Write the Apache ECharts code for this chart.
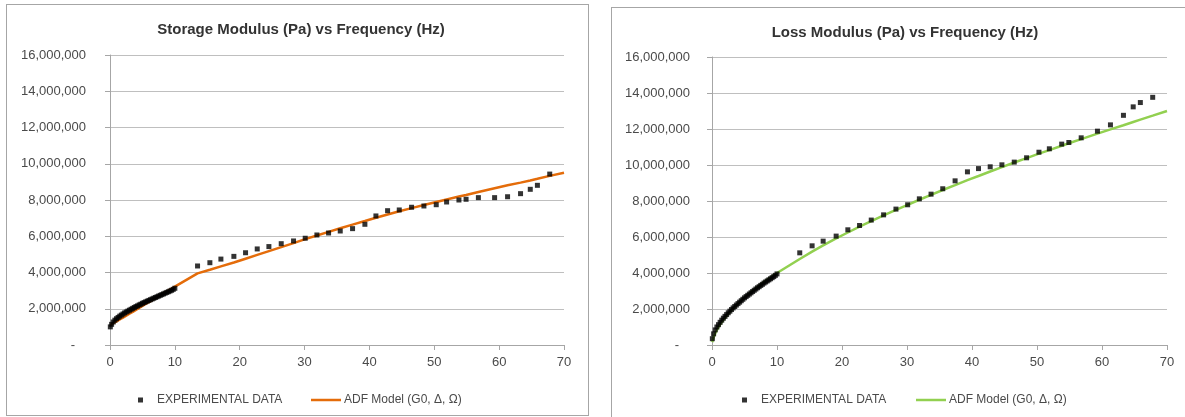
<!DOCTYPE html>
<html>
<head>
<meta charset="utf-8">
<script src="https://cdn.jsdelivr.net/npm/echarts@6/dist/echarts.min.js"></script>
<style>
    html, body { margin: 0; padding: 0; background: #fff; width: 1185px; height: 417px; overflow: hidden; position: relative; }
    .box { position: absolute; border: 1px solid #a6a6a6; background: #fff; }
    #storage { left: 6px; top: 4px; width: 581px; height: 410px; }
    #loss { left: 611px; top: 7px; width: 600px; height: 420px; }
</style>
</head>
<body>
<div id="storage" class="box"></div>
<div id="loss" class="box"></div>
<script>
// frequencies (Hz), dense sweep 0-10 then the sparse one
var freqDense = [0.05, 0.25, 0.5, 0.75, 1, 1.25, 1.5, 1.75, 2, 2.25, 2.5, 2.75, 3, 3.25, 3.5, 3.75, 4, 4.25, 4.5, 4.75,
    5, 5.25, 5.5, 5.75, 6, 6.25, 6.5, 6.75, 7, 7.25, 7.5, 7.75, 8, 8.25, 8.5, 8.75, 9, 9.25, 9.5, 9.75, 10];
var freqSparse = [13.5, 15.4, 17.1, 19.1, 20.9, 22.7, 24.5, 26.4, 28.3, 30.1, 31.9, 33.7, 35.5, 37.4, 39.3, 41.0,
    42.8, 44.6, 46.5, 48.4, 50.3, 51.9, 53.8, 54.9, 56.8, 59.3, 61.3, 63.3, 64.8, 65.9, 67.8];
var freqEnd = [70];

// storage modulus, MPa
var storageExpDense = [1.00, 1.14, 1.27, 1.37, 1.45, 1.52, 1.59, 1.65, 1.71, 1.77, 1.82, 1.87, 1.92, 1.97, 2.02, 2.07,
    2.12, 2.16, 2.21, 2.25, 2.30, 2.34, 2.38, 2.42, 2.46, 2.50, 2.54, 2.58, 2.62, 2.66, 2.70, 2.74, 2.78, 2.82, 2.86,
    2.90, 2.94, 2.98, 3.02, 3.07, 3.13];
var storageExpSparse = [4.36, 4.54, 4.74, 4.89, 5.09, 5.30, 5.43, 5.59, 5.74, 5.89, 6.07, 6.18, 6.29, 6.42, 6.66, 7.12,
    7.41, 7.45, 7.60, 7.67, 7.74, 7.89, 8.00, 8.04, 8.13, 8.13, 8.18, 8.35, 8.59, 8.81, 9.43];
var storageModelDense = [1.10, 1.14, 1.20, 1.25, 1.30, 1.35, 1.41, 1.46, 1.51, 1.57, 1.62, 1.67, 1.73, 1.78, 1.83, 1.89,
    1.94, 1.99, 2.05, 2.10, 2.15, 2.21, 2.26, 2.31, 2.37, 2.42, 2.47, 2.53, 2.58, 2.63, 2.69, 2.74, 2.79, 2.85, 2.90,
    2.95, 3.01, 3.06, 3.11, 3.17, 3.22];
var storageModelSparse = [3.95, 4.15, 4.34, 4.55, 4.76, 4.97, 5.18, 5.40, 5.62, 5.84, 6.04, 6.24, 6.44, 6.64, 6.84, 7.02,
    7.20, 7.38, 7.55, 7.72, 7.89, 8.03, 8.19, 8.28, 8.44, 8.65, 8.81, 8.96, 9.08, 9.17, 9.33, 9.50];

// loss modulus, MPa
var lossExpDense = [0.35, 0.62, 0.84, 1.00, 1.13, 1.26, 1.38, 1.49, 1.59, 1.69, 1.79, 1.88, 1.97, 2.06, 2.14, 2.22,
    2.30, 2.38, 2.46, 2.54, 2.62, 2.69, 2.76, 2.83, 2.90, 2.97, 3.04, 3.11, 3.18, 3.24, 3.31, 3.37, 3.44, 3.50, 3.56,
    3.62, 3.68, 3.74, 3.80, 3.87, 3.95];
var lossExpSparse = [5.12, 5.51, 5.77, 6.05, 6.40, 6.64, 6.94, 7.23, 7.55, 7.79, 8.12, 8.38, 8.68, 9.12, 9.62, 9.80,
    9.90, 10.01, 10.16, 10.40, 10.71, 10.90, 11.16, 11.25, 11.51, 11.88, 12.23, 12.76, 13.23, 13.47, 13.76];
var lossModelDense = [0.16, 0.43, 0.65, 0.83, 0.99, 1.14, 1.27, 1.39, 1.51, 1.62, 1.73, 1.83, 1.93, 2.03, 2.12, 2.21,
    2.30, 2.38, 2.47, 2.55, 2.63, 2.71, 2.79, 2.86, 2.94, 3.01, 3.08, 3.15, 3.22, 3.29, 3.36, 3.43, 3.50, 3.56, 3.63,
    3.69, 3.75, 3.82, 3.88, 3.94, 4.00];
var lossModelSparse = [4.78, 5.19, 5.53, 5.92, 6.25, 6.57, 6.88, 7.20, 7.51, 7.79, 8.07, 8.34, 8.61, 8.88, 9.16, 9.39,
    9.64, 9.88, 10.14, 10.38, 10.63, 10.83, 11.07, 11.21, 11.44, 11.74, 11.98, 12.21, 12.39, 12.52, 12.74, 13.00];

var xTicks = [0, 10, 20, 30, 40, 50, 60, 70];
var yTicks = [0, 2e6, 4e6, 6e6, 8e6, 1e7, 1.2e7, 1.4e7, 1.6e7];
var expName = 'EXPERIMENTAL DATA';
var modelName = 'ADF Model (G0, \u0394, \u03a9)';

var FONT = 'Liberation Sans';
var LABEL = '#4a4a4a';

function pairs(xs, ys) {
    var out = [];
    for (var i = 0; i < xs.length; i++) {
        out.push([xs[i], ys[i] * 1e6]);
    }
    return out;
}

function fmtY(v) {
    if (v === 0) return '-   ';
    return String(Math.round(v)).replace(/\B(?=(\d{3})+(?!\d))/g, ',');
}

function buildChart(el, cfg) {
    var chart = echarts.init(document.getElementById(el));
    var expData = pairs(freqDense, cfg.expDense).concat(pairs(freqSparse, cfg.expSparse));
    var modelData = pairs(freqDense, cfg.modelDense).concat(pairs(freqSparse.concat(freqEnd), cfg.modelSparse));
    var option = {
        animation: false,
        title: {
            text: cfg.title,
            left: cfg.titleX,
            top: 12,
            textAlign: 'center',
            textStyle: { fontFamily: FONT, fontSize: 15, fontWeight: 'bold', color: '#333' }
        },
        grid: { left: cfg.gridLeft, top: cfg.gridTop, width: cfg.gridWidth, height: cfg.gridHeight },
        legend: [{
            data: [expName],
            left: cfg.legendLeft1,
            top: cfg.legendTop,
            icon: 'rect',
            itemWidth: 5,
            itemHeight: 5,
            textStyle: { fontFamily: FONT, fontSize: 12, color: LABEL, padding: [0, 0, 0, 9] }
        }, {
            data: [modelName],
            left: cfg.legendLeft2,
            top: cfg.legendTop,
            icon: 'rect',
            itemWidth: 30,
            itemHeight: 2.5,
            textStyle: { fontFamily: FONT, fontSize: 12, color: LABEL, padding: [0, 0, 0, -2] }
        }],
        xAxis: {
            type: 'value',
            min: xTicks[0],
            max: xTicks[xTicks.length - 1],
            interval: xTicks[1] - xTicks[0],
            axisLine: { lineStyle: { color: '#a6a6a6' } },
            axisTick: { show: true, length: 5, lineStyle: { color: '#a6a6a6' } },
            axisLabel: { margin: 11, fontFamily: FONT, fontSize: 13, color: LABEL },
            splitLine: { show: false }
        },
        yAxis: {
            type: 'value',
            min: yTicks[0],
            max: yTicks[yTicks.length - 1],
            interval: yTicks[1] - yTicks[0],
            axisLine: { show: true, lineStyle: { color: '#a6a6a6' } },
            axisTick: { show: true, length: 5, lineStyle: { color: '#a6a6a6' } },
            axisLabel: { margin: cfg.yLabelMargin, fontFamily: FONT, fontSize: 13, color: LABEL, formatter: fmtY },
            splitLine: { lineStyle: { color: '#bfbfbf' } }
        },
        series: [{
            name: expName,
            type: 'scatter',
            symbol: 'rect',
            symbolSize: 5,
            z: 3,
            itemStyle: { color: '#000' },
            data: expData
        }, {
            name: modelName,
            type: 'line',
            symbol: 'none',
            z: 2,
            lineStyle: { color: cfg.lineColor, width: 2.5 },
            itemStyle: { color: cfg.lineColor },
            data: modelData
        }]
    };
    chart.setOption(option);
    return chart;
}

buildChart('storage', {
    title: 'Storage Modulus (Pa) vs Frequency (Hz)',
    titleX: 289,
    gridLeft: 103, gridTop: 50, gridWidth: 454, gridHeight: 290,
    yLabelMargin: 24,
    legendLeft1: 126, legendLeft2: 299, legendTop: 384,
    lineColor: '#e46c0a',
    expDense: storageExpDense, expSparse: storageExpSparse,
    modelDense: storageModelDense, modelSparse: storageModelSparse
});

buildChart('loss', {
    title: 'Loss Modulus (Pa) vs Frequency (Hz)',
    titleX: 288,
    gridLeft: 100, gridTop: 49, gridWidth: 455, gridHeight: 288,
    yLabelMargin: 22,
    legendLeft1: 125, legendLeft2: 299, legendTop: 381,
    lineColor: '#92d050',
    expDense: lossExpDense, expSparse: lossExpSparse,
    modelDense: lossModelDense, modelSparse: lossModelSparse
});
</script>
</body>
</html>
